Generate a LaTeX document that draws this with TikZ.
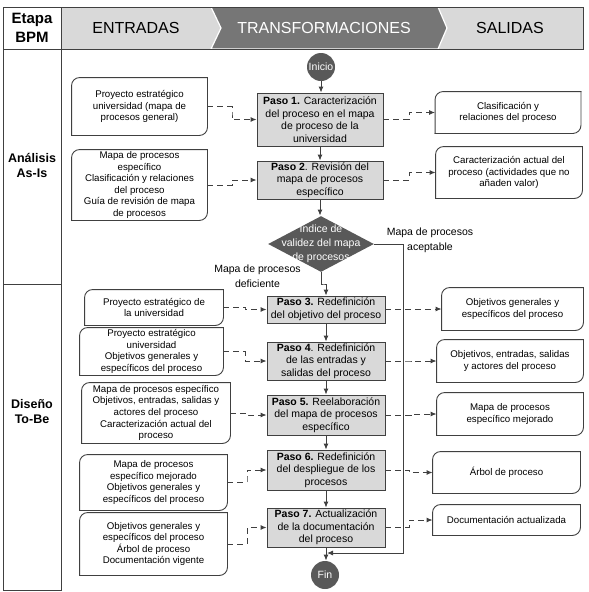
\documentclass[tikz,border=0pt]{standalone}
\usepackage{fontspec}
\setmainfont{Liberation Sans}
\usepackage{tikz}
\usetikzlibrary{calc,shapes.geometric,arrows.meta}
\definecolor{lightband}{RGB}{217,217,217}
\definecolor{darkband}{RGB}{118,118,118}
\definecolor{darknode}{RGB}{89,89,89}
\definecolor{stepfill}{RGB}{217,217,217}
\definecolor{linegray}{RGB}{64,64,64}

\begin{document}
\begin{tikzpicture}[x=1pt,y=-1pt,line width=0.9pt,
  paso/.style={draw=linegray,fill=stepfill,align=center,inner sep=0pt,font=\fontsize{10.5}{12.6}\selectfont},
  doc/.style={align=center,inner sep=0pt,font=\fontsize{9.7}{11.6}\selectfont},
  docline/.style={draw=linegray,rounded corners=8pt,line cap=rect},
  term/.style={circle,fill=darknode,text=white,minimum size=28pt,inner sep=0pt,font=\fontsize{10.5}{12}\selectfont},
  flow/.style={draw=linegray,-{Latex[length=6pt,width=5pt]}},
  dataflow/.style={flow,dash pattern=on 6pt off 4pt},
  elbow/.style={to path={-| ($(\tikztostart)!0.5!(\tikztotarget)$) |- (\tikztotarget)}},
  jog/.style={to path={|- ($(\tikztostart)!0.5!(\tikztotarget)$) -| (\tikztotarget)}},
  lbl/.style={align=center,inner sep=0pt,font=\fontsize{10.5}{15}\selectfont},
  head/.style={inner sep=0pt,font=\fontsize{16}{19}\selectfont},
  stage/.style={align=center,inner sep=0pt,font=\bfseries\fontsize{12.5}{15}\selectfont}]

\useasboundingbox (0,0) rectangle (589,592);

\fill[lightband] (61,7) rectangle (583,49);
\filldraw[fill=darkband,draw=white,line width=1.2pt] (211,7) -- (438,7) -- (447,28) -- (438,49) -- (211,49) -- (221,28) -- cycle;
\draw[linegray] (3,7) rectangle (583,49);
\draw[linegray] (61,7) -- (61,49);
\draw[linegray] (3,49) rectangle (61,590);
\draw[linegray] (3,284) -- (61,284);

\node[stage,font=\bfseries\fontsize{15}{19}\selectfont] (etapa) at (32,28) {Etapa\\BPM};
\node[head] (entradas) at (136,28) {ENTRADAS};
\node[head,text=white] (transf) at (324,28) {TRANSFORMACIONES};
\node[head] (salidas) at (510,28) {SALIDAS};
\node[stage] (asis) at (32,165) {Análisis\\As-Is};
\node[stage] (tobe) at (32,412) {Diseño\\To-Be};

\node[term] (inicio) at (321,67) {Inicio};
\node[paso,minimum width=126pt,minimum height=53pt] (p1) at (320,119.5) {\textbf{Paso 1.} Caracterización\\del proceso en el mapa\\de proceso de la\\universidad};
\node[paso,minimum width=126pt,minimum height=38pt] (p2) at (320,180) {\textbf{Paso 2}. Revisión del\\mapa de procesos\\específico};
\node[diamond,fill=darknode,minimum width=106pt,minimum height=56pt,inner sep=0pt] (valid) at (321,244) {};
\node[lbl,text=white,font=\fontsize{10.5}{14}\selectfont] (validtxt) at (valid) {Indice de\\validez del mapa\\de procesos};
\node[paso,minimum width=118pt,minimum height=27pt] (p3) at (326,309.5) {\textbf{Paso 3.} Redefinición\\del objetivo del proceso};
\node[paso,minimum width=118pt,minimum height=38pt] (p4) at (326,361) {\textbf{Paso 4}. Redefinición\\de las entradas y\\salidas del proceso};
\node[paso,minimum width=118pt,minimum height=40pt] (p5) at (326,415) {\textbf{Paso 5.} Reelaboración\\del mapa de procesos\\específico};
\node[paso,minimum width=118pt,minimum height=40pt] (p6) at (326,470) {\textbf{Paso 6.} Redefinición\\del despliegue de los\\procesos};
\node[paso,minimum width=118pt,minimum height=39pt] (p7) at (326,527.5) {\textbf{Paso 7.} Actualización\\de la documentación\\del proceso};
\node[term] (fin) at (325,575) {Fin};

\node[lbl] (okmap) at (430,240.5) {Mapa de procesos\\aceptable};
\node[lbl] (badmap) at (257.5,276) {Mapa de procesos\\deficiente};

\node[doc,minimum width=135pt,minimum height=57pt] (e1) at (139.5,106.5) {Proyecto estratégico\\universidad (mapa de\\procesos general)};
\node[doc,minimum width=135pt,minimum height=70pt] (e2) at (139.5,185) {Mapa de procesos\\específico\\Clasificación y relaciones\\del proceso\\Guía de revisión de mapa\\de procesos};
\node[doc,minimum width=138pt,minimum height=35pt] (e3) at (154,307.5) {Proyecto estratégico de\\la universidad};
\node[doc,minimum width=143pt,minimum height=47pt] (e4) at (151.5,351.5) {Proyecto estratégico\\universidad\\Objetivos generales y\\específicos del proceso};
\node[doc,minimum width=148pt,minimum height=60pt] (e5) at (156,413) {Mapa de procesos específico\\Objetivos, entradas, salidas y\\actores del proceso\\Caracterización actual del\\proceso};
\node[doc,minimum width=147pt,minimum height=55pt] (e6) at (153.5,482.5) {Mapa de procesos\\específico mejorado\\Objetivos generales y\\específicos del proceso};
\node[doc,minimum width=147pt,minimum height=62pt] (e7) at (153.5,544) {Objetivos generales y\\específicos del proceso\\Árbol de proceso\\Documentación vigente};

\node[doc,minimum width=145pt,minimum height=41pt] (s1) at (508,112.5) {Clasificación y\\relaciones del proceso};
\node[doc,minimum width=146pt,minimum height=51pt] (s2) at (509,172.5) {Caracterización actual del\\proceso (actividades que no\\añaden valor)};
\node[doc,minimum width=141pt,minimum height=42pt] (s3) at (512.5,309) {Objetivos generales y\\específicos del proceso};
\node[doc,minimum width=146pt,minimum height=42pt] (s4) at (510,361) {Objetivos, entradas, salidas\\y actores del proceso};
\node[doc,minimum width=146pt,minimum height=42pt] (s5) at (510,414) {Mapa de procesos\\específico mejorado};
\node[doc,minimum width=147pt,minimum height=41pt] (s6) at (506.5,472.5) {Árbol de proceso};
\node[doc,minimum width=147pt,minimum height=30pt] (s7) at (506.5,520) {Documentación actualizada};

\foreach \d in {e1,e2,e3,e4,e5,e6,e7,s1,s2,s3,s4,s5,s6,s7}{
  \draw[docline] (\d.north east) -- (\d.north west) -- (\d.south west);
  \draw[docline] (\d.south west) -- (\d.south east) -- (\d.north east);
}

\coordinate (merge) at (327,553);

\draw[flow] (inicio.south) -- (inicio.south |- p1.north);
\draw[flow] (p1.south) -- (p2.north);
\draw[flow] (p2.south) -- (p2.south |- valid.north);
\draw[flow] (valid.south) to[jog] (p3.north);
\draw[flow] (p3.south) -- (p4.north);
\draw[flow] (p4.south) -- (p5.north);
\draw[flow] (p5.south) -- (p6.north);
\draw[flow] (p6.south) -- (p7.north);
\draw[flow] (p7.south) -- (p7.south |- fin.north);
\draw[flow] (valid.east) -- ++(29,0) |- (merge);

\draw[dataflow] (e1.east) to[elbow] (p1.west);
\draw[dataflow] (e2.east) to[elbow] (p2.west);
\draw[dataflow] (e3.east) to[elbow] (p3.west);
\draw[dataflow] (e4.east) to[elbow] (p4.west);
\draw[dataflow] (e5.east) to[elbow] (p5.west);
\draw[dataflow] (e6.east) to[elbow] (p6.west);
\draw[dataflow] (e7.east) to[elbow] (p7.west);
\draw[dataflow] (p1.east) to[elbow] (s1.west);
\draw[dataflow] (p2.east) to[elbow] (s2.west);
\draw[dataflow] (p3.east) to[elbow] (s3.west);
\draw[dataflow] (p4.east) to[elbow] (s4.west);
\draw[dataflow] (p5.east) to[elbow] (s5.west);
\draw[dataflow] (p6.east) to[elbow] (s6.west);
\draw[dataflow] (p7.east) to[elbow] (s7.west);

\end{tikzpicture}
\end{document}
